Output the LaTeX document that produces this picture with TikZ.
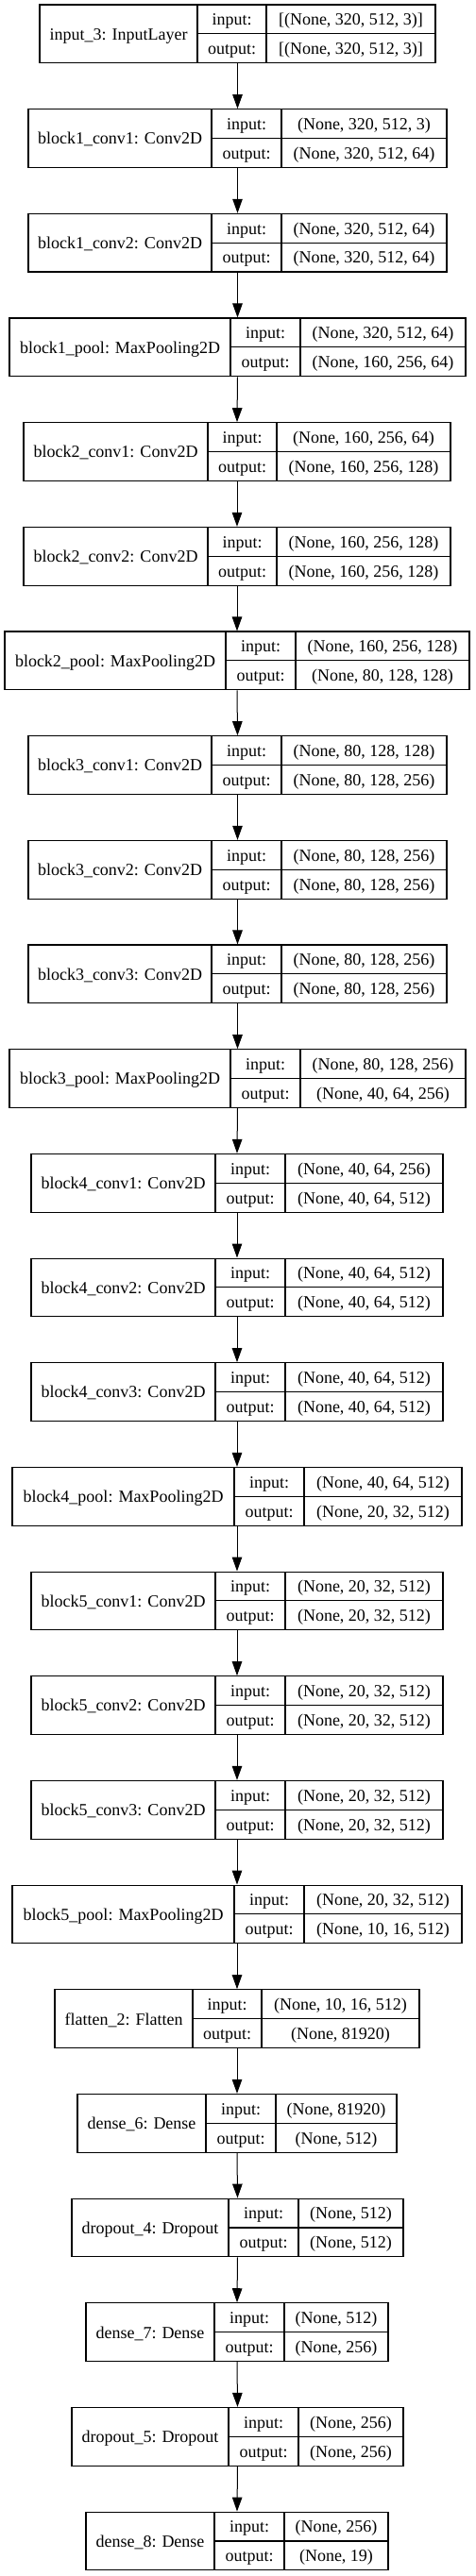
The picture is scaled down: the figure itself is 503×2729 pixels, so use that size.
\documentclass[tikz,border=0pt]{standalone}
\usepackage{fontspec}
\setmainfont{Liberation Serif}
\usetikzlibrary{arrows.meta}

\tikzset{
  layerbox/.style={draw, line width=1.1pt, rectangle, inner sep=0pt, minimum height=61.7pt},
  boxline/.style={line width=1.1pt},
  celltext/.style={anchor=base, inner sep=0pt, font=\fontsize{18}{21}\selectfont},
  flow/.style={line width=1pt, -{Triangle[length=15pt,width=10.5pt]}}
}

% one layer: name, row, left, div1, div2, right, label, input shape, output shape
\newcommand{\kerasrow}[9]{%
  \pgfmathsetmacro{\rowtop}{5+110.67*#2}
  \pgfmathsetmacro{\rowmid}{\rowtop+30.85}
  \node[layerbox, minimum width={(#6-#3)*1pt}] (#1) at ({(#3+#6)/2},\rowmid) {};
  \draw[boxline] (#4,\rowtop) -- (#4,\rowtop+61.7);
  \draw[boxline] (#5,\rowtop) -- (#5,\rowtop+61.7);
  \draw[boxline] (#4,\rowmid) -- (#6,\rowmid);
  \node[celltext] (#1-name) at ({(#3+#4)/2},\rowmid+6.4) {#7};
  \node[celltext] (#1-key1) at ({(#4+#5)/2},\rowtop+15.4+6.4) {input:};
  \node[celltext] (#1-key2) at ({(#4+#5)/2},\rowmid+15.4+6.4) {output:};
  \node[celltext] (#1-in) at ({(#5+#6)/2},\rowtop+15.4+6.4) {#8};
  \node[celltext] (#1-out) at ({(#5+#6)/2},\rowmid+15.4+6.4) {#9};
}

\begin{document}
\begin{tikzpicture}[x=1pt,y=-1pt]
        \useasboundingbox (0,0) rectangle (503,2729);

        \kerasrow{in3}{0}{42}{209}{282}{461}{input\_3: InputLayer}{[(None, 320, 512, 3)]}{[(None, 320, 512, 3)]}
        \kerasrow{b1c1}{1}{30}{224}{298}{473}{block1\_conv1: Conv2D}{(None, 320, 512, 3)}{(None, 320, 512, 64)}
        \kerasrow{b1c2}{2}{30}{224}{298}{473}{block1\_conv2: Conv2D}{(None, 320, 512, 64)}{(None, 320, 512, 64)}
        \kerasrow{b1p}{3}{10}{244}{318}{493}{block1\_pool: MaxPooling2D}{(None, 320, 512, 64)}{(None, 160, 256, 64)}
        \kerasrow{b2c1}{4}{25}{220}{293}{477}{block2\_conv1: Conv2D}{(None, 160, 256, 64)}{(None, 160, 256, 128)}
        \kerasrow{b2c2}{5}{25}{220}{293}{477}{block2\_conv2: Conv2D}{(None, 160, 256, 128)}{(None, 160, 256, 128)}
        \kerasrow{b2p}{6}{5}{239}{313}{497}{block2\_pool: MaxPooling2D}{(None, 160, 256, 128)}{(None, 80, 128, 128)}
        \kerasrow{b3c1}{7}{30}{224}{298}{473}{block3\_conv1: Conv2D}{(None, 80, 128, 128)}{(None, 80, 128, 256)}
        \kerasrow{b3c2}{8}{30}{224}{298}{473}{block3\_conv2: Conv2D}{(None, 80, 128, 256)}{(None, 80, 128, 256)}
        \kerasrow{b3c3}{9}{30}{224}{298}{473}{block3\_conv3: Conv2D}{(None, 80, 128, 256)}{(None, 80, 128, 256)}
        \kerasrow{b3p}{10}{10}{244}{318}{493}{block3\_pool: MaxPooling2D}{(None, 80, 128, 256)}{(None, 40, 64, 256)}
        \kerasrow{b4c1}{11}{33}{228}{302}{469}{block4\_conv1: Conv2D}{(None, 40, 64, 256)}{(None, 40, 64, 512)}
        \kerasrow{b4c2}{12}{33}{228}{302}{469}{block4\_conv2: Conv2D}{(None, 40, 64, 512)}{(None, 40, 64, 512)}
        \kerasrow{b4c3}{13}{33}{228}{302}{469}{block4\_conv3: Conv2D}{(None, 40, 64, 512)}{(None, 40, 64, 512)}
        \kerasrow{b4p}{14}{13}{248}{322}{489}{block4\_pool: MaxPooling2D}{(None, 40, 64, 512)}{(None, 20, 32, 512)}
        \kerasrow{b5c1}{15}{33}{228}{302}{469}{block5\_conv1: Conv2D}{(None, 20, 32, 512)}{(None, 20, 32, 512)}
        \kerasrow{b5c2}{16}{33}{228}{302}{469}{block5\_conv2: Conv2D}{(None, 20, 32, 512)}{(None, 20, 32, 512)}
        \kerasrow{b5c3}{17}{33}{228}{302}{469}{block5\_conv3: Conv2D}{(None, 20, 32, 512)}{(None, 20, 32, 512)}
        \kerasrow{b5p}{18}{13}{248}{322}{489}{block5\_pool: MaxPooling2D}{(None, 20, 32, 512)}{(None, 10, 16, 512)}
        \kerasrow{flat2}{19}{58}{204}{277}{444}{flatten\_2: Flatten}{(None, 10, 16, 512)}{(None, 81920)}
        \kerasrow{dense6}{20}{82}{218}{292}{420}{dense\_6: Dense}{(None, 81920)}{(None, 512)}
        \kerasrow{drop4}{21}{76}{242}{316}{427}{dropout\_4: Dropout}{(None, 512)}{(None, 512)}
        \kerasrow{dense7}{22}{91}{227}{301}{411}{dense\_7: Dense}{(None, 512)}{(None, 256)}
        \kerasrow{drop5}{23}{76}{242}{316}{427}{dropout\_5: Dropout}{(None, 256)}{(None, 256)}
        \kerasrow{dense8}{24}{91}{227}{301}{411}{dense\_8: Dense}{(None, 256)}{(None, 19)}

        \draw[flow] (in3.south) -- (b1c1.north);
        \draw[flow] (b1c1.south) -- (b1c2.north);
        \draw[flow] (b1c2.south) -- (b1p.north);
        \draw[flow] (b1p.south) -- (b2c1.north);
        \draw[flow] (b2c1.south) -- (b2c2.north);
        \draw[flow] (b2c2.south) -- (b2p.north);
        \draw[flow] (b2p.south) -- (b3c1.north);
        \draw[flow] (b3c1.south) -- (b3c2.north);
        \draw[flow] (b3c2.south) -- (b3c3.north);
        \draw[flow] (b3c3.south) -- (b3p.north);
        \draw[flow] (b3p.south) -- (b4c1.north);
        \draw[flow] (b4c1.south) -- (b4c2.north);
        \draw[flow] (b4c2.south) -- (b4c3.north);
        \draw[flow] (b4c3.south) -- (b4p.north);
        \draw[flow] (b4p.south) -- (b5c1.north);
        \draw[flow] (b5c1.south) -- (b5c2.north);
        \draw[flow] (b5c2.south) -- (b5c3.north);
        \draw[flow] (b5c3.south) -- (b5p.north);
        \draw[flow] (b5p.south) -- (flat2.north);
        \draw[flow] (flat2.south) -- (dense6.north);
        \draw[flow] (dense6.south) -- (drop4.north);
        \draw[flow] (drop4.south) -- (dense7.north);
        \draw[flow] (dense7.south) -- (drop5.north);
        \draw[flow] (drop5.south) -- (dense8.north);
\end{tikzpicture}
\end{document}
